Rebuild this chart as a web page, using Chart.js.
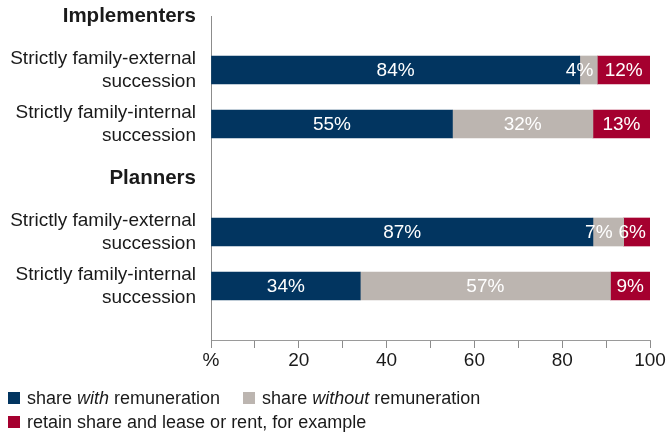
<!DOCTYPE html>
<html>
<head>
<meta charset="utf-8">
<script src="https://cdn.jsdelivr.net/npm/chart.js@4"></script>
<style>
    body { margin: 0; background: #fff; }
    #wrap { position: relative; width: 669px; height: 437px; }
    #legend {
        position: absolute; left: 8px; top: 386px;
        font: 18px "Liberation Sans", Arial, sans-serif; color: #1a1a1a;
    }
    #legend .row { display: flex; height: 24px; align-items: center; }
    #legend .item { display: flex; align-items: center; margin-right: 23px; white-space: nowrap; }
    #legend .box { width: 12px; height: 12px; margin-right: 7px; }
</style>
</head>
<body>
<div id="wrap">
    <canvas id="shares"></canvas>
    <div id="legend"></div>
</div>
<script>
// rows, top to bottom; the two group headers carry no bars, last row is a spacer
const categories = [
    'Implementers',
    ['Strictly family-external', 'succession'],
    ['Strictly family-internal', 'succession'],
    'Planners',
    ['Strictly family-external', 'succession'],
    ['Strictly family-internal', 'succession'],
    ''
];
const headerRows = [0, 3];

const seriesNames = [
    'share with remuneration',
    'share without remuneration',
    'retain share and lease or rent, for example'
];
const withPay    = [null, 84, 55, null, 87, 34, null];
const withoutPay = [null, 4, 32, null, 7, 57, null];
const retain     = [null, 12, 13, null, 6, 9, null];

const xTickValues = [0, 20, 40, 60, 80, 100];
const xTickLabels = ['%', '20', '40', '60', '80', '100'];

const colors = ['#023560', '#bcb5b0', '#a5002f'];
const FONT = '"Liberation Sans", Arial, sans-serif';

// white percentages inside the segments, nudged left when they would collide
const segLabels = {
    id: 'segLabels',
    afterDatasetsDraw(chart) {
        const ctx = chart.ctx;
        ctx.save();
        ctx.font = '19px ' + FONT;
        ctx.fillStyle = '#fff';
        ctx.textBaseline = 'middle';
        ctx.textAlign = 'left';
        chart.data.labels.forEach((_, i) => {
            const items = [];
            chart.data.datasets.forEach((ds, d) => {
                const v = ds.data[i];
                if (v == null) return;
                const bar = chart.getDatasetMeta(d).data[i];
                const text = v + '%';
                const w = ctx.measureText(text).width;
                const left = Math.min(bar.base, bar.x);
                const right = Math.max(bar.base, bar.x);
                let x = (left + right) / 2 - w / 2;
                if (w > right - left) x = right - 4 - w;
                items.push({ text, x, w, y: bar.y });
            });
            for (let k = items.length - 2; k >= 0; k--) {
                const limit = items[k + 1].x - 6;
                if (items[k].x + items[k].w > limit) items[k].x = limit - items[k].w;
            }
            items.forEach(it => ctx.fillText(it.text, it.x, it.y + 1));
        });
        ctx.restore();
    }
};

const chart = new Chart(document.getElementById('shares'), {
    type: 'bar',
    data: {
        labels: categories,
        datasets: [withPay, withoutPay, retain].map((values, k) => ({
            label: seriesNames[k],
            data: values,
            backgroundColor: colors[k],
            borderWidth: 0,
            barThickness: 28
        }))
    },
    options: {
        indexAxis: 'y',
        responsive: true,
        maintainAspectRatio: false,
        animation: false,
        layout: { padding: { top: 16, right: 19, bottom: 57, left: 0 } },
        plugins: {
            legend: { display: false },
            tooltip: { enabled: false }
        },
        scales: {
            x: {
                stacked: true,
                min: 0,
                max: 100,
                afterFit: scale => { scale.height = 40; },
                afterBuildTicks: scale => {
                    scale.ticks = [];
                    for (let v = 0; v <= 100; v += 10) scale.ticks.push({ value: v });
                },
                grid: {
                    drawOnChartArea: false,
                    drawTicks: true,
                    tickLength: 8,
                    color: '#8c8c8c'
                },
                border: { display: true, color: '#9a9a9a', width: 1 },
                ticks: {
                    autoSkip: false,
                    maxRotation: 0,
                    padding: 1,
                    color: '#1a1a1a',
                    font: { family: FONT, size: 19 },
                    callback: value => {
                        const idx = xTickValues.indexOf(value);
                        return idx === -1 ? '' : xTickLabels[idx];
                    }
                }
            },
            y: {
                stacked: true,
                offset: false,
                afterFit: scale => {
                    scale.width = 211;
                    // rows sit on a fixed grid; labels may overhang the plot edges
                    scale.paddingTop = 0;
                    scale.paddingBottom = 0;
                },
                grid: { display: false, drawTicks: false },
                border: { display: true, color: '#8c8c8c', width: 1 },
                ticks: {
                    autoSkip: false,
                    padding: 15,
                    color: '#1a1a1a',
                    font: ctx => headerRows.includes(ctx.index)
                        ? { family: FONT, size: 20.5, weight: 'bold', lineHeight: 1.2 }
                        : { family: FONT, size: 19, weight: 'normal', lineHeight: 1.2 }
                }
            }
        }
    },
    plugins: [segLabels]
});

// legend below the axis, with the key words set in italics
const legendRows = [[0, 1], [2]];
document.getElementById('legend').innerHTML = legendRows.map(row =>
    '<div class="row">' + row.map(k =>
        '<span class="item"><span class="box" style="background:' + colors[k] + '"></span><span>' +
        seriesNames[k].replace(/\b(with|without)\b/, '<i>$1</i>') + '</span></span>'
    ).join('') + '</div>'
).join('');
</script>
</body>
</html>
